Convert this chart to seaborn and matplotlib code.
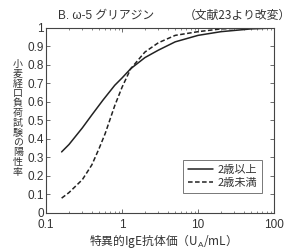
import matplotlib
matplotlib.use("Agg")
import matplotlib.pyplot as plt
import seaborn as sns
import pandas as pd

# values
ige_over2 = [0.16, 0.2, 0.3, 0.4, 0.56, 0.8, 1.0, 1.3, 2.0, 3.0, 5.0, 10, 20, 50, 100]
rate_over2 = [0.33, 0.37, 0.46, 0.53, 0.61, 0.69, 0.73, 0.78, 0.84, 0.88, 0.925, 0.96, 0.98, 0.995, 1.0]
ige_under2 = [0.16, 0.2, 0.3, 0.4, 0.5, 0.6, 0.8, 1.0, 1.3, 2.0, 3.0, 5.0, 10, 20, 50, 100]
rate_under2 = [0.08, 0.11, 0.18, 0.26, 0.35, 0.43, 0.58, 0.68, 0.78, 0.87, 0.92, 0.96, 0.98, 0.995, 1.0, 1.0]
groups = ["2歳以上", "2歳未満"]
x_ticks = [0.1, 1, 10, 100]
x_ticklabels = ["0.1", "1", "10", "100"]
y_ticks = [0, 0.1, 0.2, 0.3, 0.4, 0.5, 0.6, 0.7, 0.8, 0.9, 1]
y_ticklabels = ["0", "0.1", "0.2", "0.3", "0.4", "0.5", "0.6", "0.7", "0.8", "0.9", "1"]
ylabel = "小麦経口負荷試験の陽性率"

df = pd.concat([
    pd.DataFrame({"IgE": ige_over2, "rate": rate_over2, "group": groups[0]}),
    pd.DataFrame({"IgE": ige_under2, "rate": rate_under2, "group": groups[1]}),
])

sns.set_theme(style="ticks")
plt.rcParams['font.family'] = ['Liberation Sans', 'Noto Sans CJK JP', 'DejaVu Sans']
plt.rcParams['mathtext.fontset'] = 'custom'
plt.rcParams['mathtext.rm'] = 'Liberation Sans'
cjk = ['Noto Sans CJK JP', 'DejaVu Sans']
ink = "#333333"

fig = plt.figure(figsize=(2.9, 2.52), dpi=100)
ax = fig.add_axes([0.159, 0.155, 0.786, 0.734])

sns.lineplot(data=df, x="IgE", y="rate", style="group", color="#222222",
             dashes={groups[0]: "", groups[1]: (3, 1.6)}, linewidth=1.1,
             ax=ax, legend=True)

ax.set_xscale("log")
ax.set_xlim(0.1, 100)
ax.set_ylim(0, 1)
ax.set_xticks(x_ticks)
ax.set_xticklabels(x_ticklabels)
ax.set_yticks(y_ticks)
ax.set_yticklabels(y_ticklabels)
ax.tick_params(axis="both", which="both", direction="in", top=True, right=True,
               labelsize=8.5, colors="#555555", labelcolor=ink)
ax.tick_params(axis="x", pad=4.5)
ax.tick_params(axis="y", pad=1.5)
ax.tick_params(which="major", length=3, width=0.6)
ax.tick_params(which="minor", length=1.5, width=0.5)
for s in ax.spines.values():
    s.set_color("#444444")
    s.set_linewidth(0.8)

ax.set_xlabel("特異的IgE抗体価（U$_\\mathrm{A}$/mL）", fontsize=8.5, color=ink,
              labelpad=0.5, family=cjk)
ax.set_ylabel("")

leg = ax.legend(loc="lower right", bbox_to_anchor=(0.947, 0.108),
                prop={'family': cjk, 'size': 8},
                frameon=True, fancybox=False, edgecolor="#555555",
                handlelength=2.2, handletextpad=0.4, borderpad=0.45,
                labelspacing=0.3, borderaxespad=0)
leg.get_frame().set_linewidth(0.7)
for t in leg.get_texts():
    t.set_color(ink)

fig.text(0.366, 0.94, "B. ω-5 グリアジン", fontsize=8.5, color=ink, ha="center", va="center",
         family=['Liberation Sans', 'Noto Sans CJK JP'])
fig.text(0.82, 0.94, "（文献23より改変）", fontsize=8.5, color=ink, ha="center", va="center",
         family=cjk)

# vertical (tategaki) y label: one character per line
top_px, step_px = 64, 9.8
for i, ch in enumerate(ylabel):
    fig.text(0.062, 1 - (top_px + i * step_px) / 252, ch, fontsize=7.2, color=ink,
             ha="center", va="center", family=cjk)

fig.savefig("out.png", dpi=100)
